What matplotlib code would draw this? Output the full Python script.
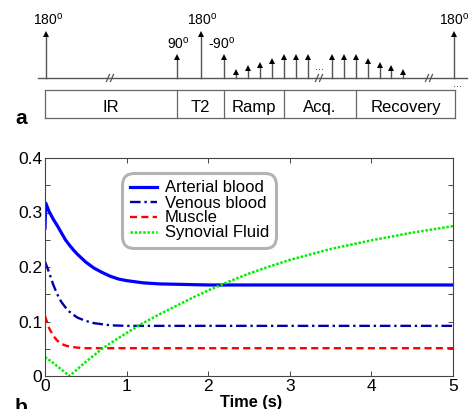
import matplotlib
matplotlib.use('Agg')
import matplotlib.pyplot as plt

plt.rcParams['font.family'] = ['Liberation Sans', 'DejaVu Sans']
plt.rcParams['mathtext.fontset'] = 'custom'
plt.rcParams['mathtext.rm'] = 'Liberation Sans'

# ---------------- data (panel b) ----------------
time_arterial = [0, 0.01, 0.05, 0.1, 0.15, 0.2, 0.25, 0.3, 0.35, 0.4, 0.5, 0.6, 0.7, 0.8,
                 0.9, 1.0, 1.2, 1.4, 1.7, 2.0, 3.0, 4.0, 5.0]
arterial = [0.271, 0.317, 0.302, 0.288, 0.276, 0.263, 0.250, 0.240, 0.231, 0.223, 0.209,
            0.198, 0.190, 0.183, 0.178, 0.175, 0.171, 0.169, 0.168, 0.167, 0.167, 0.167, 0.167]

time_venous = [0, 0.05, 0.1, 0.15, 0.2, 0.25, 0.3, 0.35, 0.4, 0.5, 0.6, 0.7, 0.8, 1.0,
               2.0, 3.0, 4.0, 5.0]
venous = [0.210, 0.190, 0.168, 0.150, 0.136, 0.126, 0.118, 0.112, 0.107, 0.101, 0.097,
          0.095, 0.093, 0.092, 0.092, 0.092, 0.092, 0.092]

time_muscle = [0, 0.05, 0.1, 0.15, 0.2, 0.25, 0.3, 0.4, 0.5, 1.0, 2.0, 3.0, 4.0, 5.0]
muscle = [0.110, 0.088, 0.074, 0.065, 0.059, 0.056, 0.054, 0.052, 0.051, 0.051, 0.051,
          0.051, 0.051, 0.051]

time_synovial = [0, 0.1, 0.2, 0.3, 0.4, 0.5, 0.6, 0.7, 0.8, 1.0, 1.2, 1.4, 1.6, 1.8, 2.0,
                 2.25, 2.5, 2.75, 3.0, 3.5, 4.0, 4.5, 5.0]
synovial = [0.035, 0.024, 0.012, 0.0, 0.013, 0.026, 0.038, 0.050, 0.060, 0.079, 0.097,
            0.113, 0.128, 0.143, 0.157, 0.173, 0.188, 0.201, 0.213, 0.233, 0.249, 0.263,
            0.275]

series_labels = ['Arterial blood', 'Venous blood', 'Muscle', 'Synovial Fluid']
x_ticks = [0, 1, 2, 3, 4, 5]
y_ticks = [0, 0.1, 0.2, 0.3, 0.4]
y_minor = [0.05, 0.15, 0.25, 0.35]

# ---------------- data (panel a, sequence diagram) ----------------
pulse_pos = [46, 177, 201, 224, 236, 248, 260, 272, 284, 296, 308,
             332, 344, 356, 368, 380, 391, 403, 454]
pulse_amp = [47, 24, 47, 24, 9, 13, 16, 20, 24, 24, 24,
             24, 24, 24, 20, 16, 13, 9, 47]
pulse_label_idx = [0, 1, 2, 3, 18]
pulse_label_text = [r'180$^{\mathregular{o}}$', r'90$^{\mathregular{o}}$',
                    r'180$^{\mathregular{o}}$', r'-90$^{\mathregular{o}}$',
                    r'180$^{\mathregular{o}}$']
segment_names = ['IR', 'T2', 'Ramp', 'Acq.', 'Recovery']
segment_edges = [45, 177, 224, 284, 356, 455]
break_pos = [110, 319, 429]

W, H = 469, 409
fig = plt.figure(figsize=(W / 100, H / 100), dpi=100)

# ---- diagram axes (pixel coordinates) ----
dax = fig.add_axes([0, 0, 1, 1])
dax.set_xlim(0, W)
dax.set_ylim(H, 0)
dax.axis('off')

base_y = 78
gray = '#555555'
dax.plot([38, 467], [base_y, base_y], color=gray, lw=1.0)
for x, a in zip(pulse_pos, pulse_amp):
    tip = base_y - a
    dax.plot([x, x], [base_y, tip + 4], color=gray, lw=1.0)
    dax.plot([x], [tip + 3], marker='^', ms=5, color='black', mec='black', mew=0)

label_offsets = {0: (2, 25), 1: (1, 49), 2: (1, 25), 3: (-2, 49)}
for i, txt in zip(pulse_label_idx, pulse_label_text):
    if i == 18:
        dax.text(439, 25, txt, ha='left', va='baseline', fontsize=10)
    else:
        dx, y = label_offsets[i]
        dax.text(pulse_pos[i] + dx, y, txt, ha='center', va='baseline', fontsize=10)

# break marks
for bx in break_pos:
    for off in (-2, 2):
        dax.plot([bx + off - 1.5, bx + off + 1.5], [base_y + 3.5, base_y - 3.5],
                 color=gray, lw=0.9)
# dots
dax.text(319, 70, '...', ha='center', va='baseline', fontsize=8, color='#333333')
dax.text(457, 87, '...', ha='center', va='baseline', fontsize=8, color='#333333')

# segment boxes
box_top, box_bot = 90, 118
edgec = '#666666'
dax.plot([segment_edges[0], segment_edges[-1]], [box_top, box_top], color=edgec, lw=0.9)
dax.plot([segment_edges[0], segment_edges[-1]], [box_bot, box_bot], color=edgec, lw=0.9)
for e in segment_edges:
    dax.plot([e, e], [box_top, box_bot], color=edgec, lw=0.9)
for name, l, r in zip(segment_names, segment_edges[:-1], segment_edges[1:]):
    dax.text((l + r) / 2, 112, name, ha='center', va='baseline', fontsize=12)

dax.text(15, 124, 'a', fontsize=15, fontweight='bold', ha='left', va='baseline')
dax.text(15, 413, 'b', fontsize=15, fontweight='bold', ha='left', va='baseline')
dax.text(251, 407, 'Time (s)', fontsize=11.8, fontweight='bold', ha='center', va='baseline')

# ---- plot axes ----
left, right, top, bottom = 45, 453, 158, 376
ax = fig.add_axes([left / W, 1 - bottom / H, (right - left) / W, (bottom - top) / H])
ax.patch.set_alpha(0)

l1, = ax.plot(time_arterial, arterial, color='#0000ff', lw=2.3, label=series_labels[0])
l2, = ax.plot(time_venous, venous, color='#0000aa', lw=1.7, dashes=(4.5, 1.6, 1.0, 1.6),
              label=series_labels[1])
l3, = ax.plot(time_muscle, muscle, color='#ff0000', lw=1.7, dashes=(3.0, 1.8),
              label=series_labels[2])
l4, = ax.plot(time_synovial, synovial, color='#00ee00', lw=1.8, dashes=(1.0, 0.7),
              label=series_labels[3])

ax.set_xlim(0, 5)
ax.set_ylim(0, 0.4)
ax.set_xticks(x_ticks)
ax.set_xticklabels([str(v) for v in x_ticks])
ax.set_yticks(y_ticks)
ax.set_yticklabels(['0', '0.1', '0.2', '0.3', '0.4'])
ax.set_yticks(y_minor, minor=True)
ax.tick_params(which='both', direction='in', top=True, right=True, length=3.5,
               width=0.7, color='#444444', labelsize=12.5, pad=2)
for sp in ax.spines.values():
    sp.set_color('#444444')
    sp.set_linewidth(0.8)

leg = ax.legend(handles=[l1, l2, l3, l4], loc='upper left',
                bbox_to_anchor=((122 - left) / (right - left), (bottom - 173) / (bottom - top)),
                borderaxespad=0, fontsize=12, frameon=True, fancybox=True,
                handlelength=1.65, handletextpad=0.45, labelspacing=0.0,
                borderpad=0.45)
frame = leg.get_frame()
frame.set_edgecolor('#a0a0a0')
frame.set_linewidth(2.2)
frame.set_boxstyle('round', pad=0, rounding_size=0.7)

fig.savefig('out.png', dpi=100)
